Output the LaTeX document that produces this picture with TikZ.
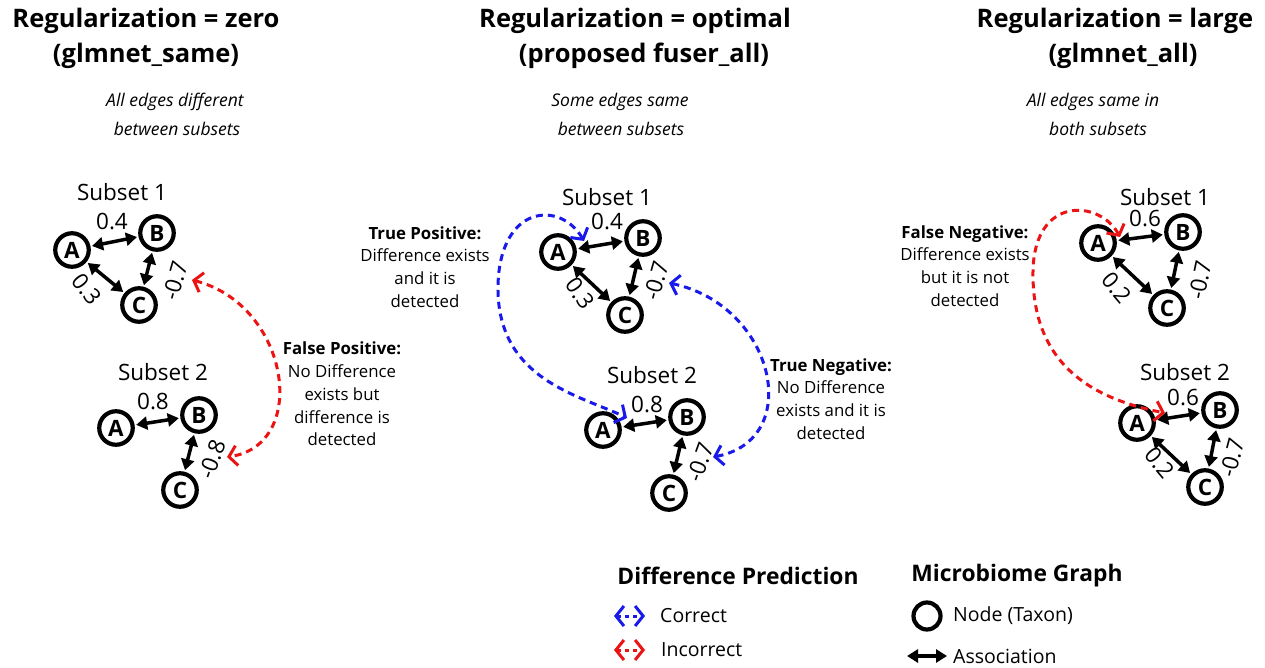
\documentclass[tikz,border=0pt]{standalone}
\usepackage{fontspec}
\setmainfont{Open Sans}
\usetikzlibrary{arrows.meta}
\definecolor{dblue}{RGB}{25,25,235}
\definecolor{dred}{RGB}{235,20,20}
\tikzset{
  tax/.style={circle, draw, line width=4.2pt, minimum size=33.5pt, inner sep=0pt, font=\fontsize{22.5}{22.5}\selectfont\bfseries},
  assoc/.style={line width=3.5pt, {Triangle[length=11pt,width=13pt]}-{Triangle[length=11pt,width=13pt]}, shorten <=1.6pt, shorten >=1.6pt},
  wlab/.style={inner sep=0pt, font=\fontsize{22.5}{22.5}\selectfont},
  sublab/.style={inner sep=0pt, font=\fontsize{22.5}{22.5}\selectfont},
  ttl/.style={inner sep=0pt, font=\fontsize{25.5}{25.5}\selectfont\bfseries},
  subttl/.style={inner sep=0pt, font=\fontsize{17.5}{17.5}\selectfont\itshape},
  note/.style={inner sep=0pt, align=center, font=\fontsize{16.8}{22.7}\selectfont},
  diff/.style={line width=3pt, dash pattern=on 7pt off 5pt,
    {Straight Barb[length=8pt,width=20pt,line width=3pt]}-{Straight Barb[length=8pt,width=20pt,line width=3pt]}},
  diffblue/.style={diff, draw=dblue},
  diffred/.style={diff, draw=dred},
  legh/.style={inner sep=0pt, font=\fontsize{22.8}{22.8}\selectfont\bfseries},
  legt/.style={inner sep=0pt, anchor=west, font=\fontsize{19.5}{19.5}\selectfont},
}
\begin{document}
\begin{tikzpicture}[x=1pt,y=-1pt]
\useasboundingbox (0,0) rectangle (1265,668);
% titles
\node[ttl] (t1a) at (146,21) {Regularization = zero};
\node[ttl] (t1b) at (146,56) {(glmnet\_same)};
\node[ttl] (t2a) at (635,21) {Regularization = optimal};
\node[ttl] (t2b) at (644,56) {(proposed fuser\_all)};
\node[ttl] (t3a) at (1115,21) {Regularization = large};
\node[ttl] (t3b) at (1123,56) {(glmnet\_all)};
\node[subttl] (s1a) at (175,102) {All edges different};
\node[subttl] (s1b) at (177,129) {between subsets};
\node[subttl] (s2a) at (620,102) {Some edges same};
\node[subttl] (s2b) at (621,129) {between subsets};
\node[subttl] (s3a) at (1093,102) {All edges same in};
\node[subttl] (s3b) at (1098,129) {both subsets};

% ---------- left ----------
\node[sublab] (Ls1) at (122,192) {Subset 1};
\node[tax] (LA1) at (72,250) {A};
\node[tax] (LB1) at (157,233) {B};
\node[tax] (LC1) at (139,305) {C};
\draw[assoc] (LA1) -- (LB1);
\draw[assoc] (LA1) -- (LC1);
\draw[assoc] (LB1) -- (LC1);
\node[wlab] (Lw1) at (112,222) {0.4};
\node[wlab, rotate=-52] (Lw2) at (87,289) {0.3};
\node[wlab, rotate=74] (Lw3) at (175,281) {-0.7};

\node[sublab] (Ls2) at (163,372) {Subset 2};
\node[tax] (LA2) at (116,428) {A};
\node[tax] (LB2) at (199,415) {B};
\node[tax] (LC2) at (180,490) {C};
\draw[assoc] (LA2) -- (LB2);
\draw[assoc] (LB2) -- (LC2);
\node[wlab] (Lw4) at (153,401) {0.8};
\node[wlab, rotate=70] (Lw5) at (212,459) {-0.8};

\coordinate (fp1) at (192,280);
\coordinate (fp2) at (227,457);
\draw[diffred] (fp1) .. controls (290,305) and (310,445) .. (fp2);
\node[note] (fp) at (342,394) {\textbf{False Positive:}\\No Difference\\exists but\\difference is\\detected};

% ---------- middle ----------
\node[sublab] (Ms1) at (607,197) {Subset 1};
\node[tax] (MA1) at (558,252) {A};
\node[tax] (MB1) at (643,238) {B};
\node[tax] (MC1) at (625,315) {C};
\draw[assoc] (MA1) -- (MB1);
\draw[assoc] (MA1) -- (MC1);
\draw[assoc] (MB1) -- (MC1);
\node[wlab] (Mw1) at (607,222) {0.4};
\node[wlab, rotate=-55] (Mw2) at (580,293) {0.3};
\node[wlab, rotate=74] (Mw3) at (656,281) {-0.7};

\node[sublab] (Ms2) at (652,375) {Subset 2};
\node[tax] (MA2) at (603,430) {A};
\node[tax] (MB2) at (687,417) {B};
\node[tax] (MC2) at (669,493) {C};
\draw[assoc] (MA2) -- (MB2);
\draw[assoc] (MB2) -- (MC2);
\node[wlab] (Mw4) at (647,404) {0.8};
\node[wlab, rotate=70] (Mw5) at (700,462) {-0.7};

\coordinate (tp1) at (584,241);
\coordinate (tp2) at (627,418);
\draw[diffblue] (tp1) .. controls (560,200) and (500,205) .. (498,285)
                      .. controls (496,380) and (580,395) .. (tp2);
\coordinate (tn1) at (669,283);
\coordinate (tn2) at (713,457);
\draw[diffblue] (tn1) .. controls (775,305) and (805,440) .. (tn2);
\node[note] (tp) at (425,267) {\textbf{True Positive:}\\Difference exists\\and it is\\detected};
\node[note] (tn) at (831,399) {\textbf{True Negative:}\\No Difference\\exists and it is\\detected};

% ---------- right ----------
\node[sublab] (Rs1) at (1165,197) {Subset 1};
\node[tax] (RA1) at (1098,243) {A};
\node[tax] (RB1) at (1183,232) {B};
\node[tax] (RC1) at (1167,308) {C};
\draw[assoc] (RA1) -- (RB1);
\draw[assoc] (RA1) -- (RC1);
\draw[assoc] (RB1) -- (RC1);
\node[wlab] (Rw1) at (1145,219) {0.6};
\node[wlab, rotate=-50] (Rw2) at (1117,288) {0.2};
\node[wlab, rotate=78] (Rw3) at (1200,280) {-0.7};

\node[sublab] (Rs2) at (1185,372) {Subset 2};
\node[tax] (RA2) at (1137,423) {A};
\node[tax] (RB2) at (1220,410) {B};
\node[tax] (RC2) at (1205,487) {C};
\draw[assoc] (RA2) -- (RB2);
\draw[assoc] (RA2) -- (RC2);
\draw[assoc] (RB2) -- (RC2);
\node[wlab] (Rw4) at (1183,397) {0.6};
\node[wlab, rotate=-50] (Rw5) at (1160,463) {0.2};
\node[wlab, rotate=75] (Rw6) at (1232,458) {-0.7};

\coordinate (fn1) at (1120,237);
\coordinate (fn2) at (1165,413);
\draw[diffred] (fn1) .. controls (1100,200) and (1035,195) .. (1033,270)
                     .. controls (1031,370) and (1100,400) .. (fn2);
\node[note] (fn) at (965,266) {\textbf{False Negative:}\\Difference exists\\but it is not\\detected};

% ---------- legend ----------
\node[legh] (lh1) at (738,576) {Difference Prediction};
\node[legh] (lh2) at (1017,576) {Microbiome Graph};
\coordinate (lc1) at (614,616);
\coordinate (lc2) at (645,616);
\draw[diffblue, dash pattern=on 4pt off 4pt] (lc1) -- (lc2);
\node[legt] (lct) at (660,616) {Correct};
\coordinate (li1) at (614,650);
\coordinate (li2) at (645,650);
\draw[diffred, dash pattern=on 4pt off 4pt] (li1) -- (li2);
\node[legt] (lit) at (661,650) {Incorrect};
\node[circle, draw, line width=4.2pt, minimum size=27pt, inner sep=0pt] (ln) at (927,616) {};
\node[legt] (lnt) at (953,616) {Node (Taxon)};
\coordinate (la1) at (907,656);
\coordinate (la2) at (947,656);
\draw[assoc, shorten <=0pt, shorten >=0pt] (la1) -- (la2);
\node[legt] (lat) at (953,656) {Association};
\end{tikzpicture}
\end{document}
